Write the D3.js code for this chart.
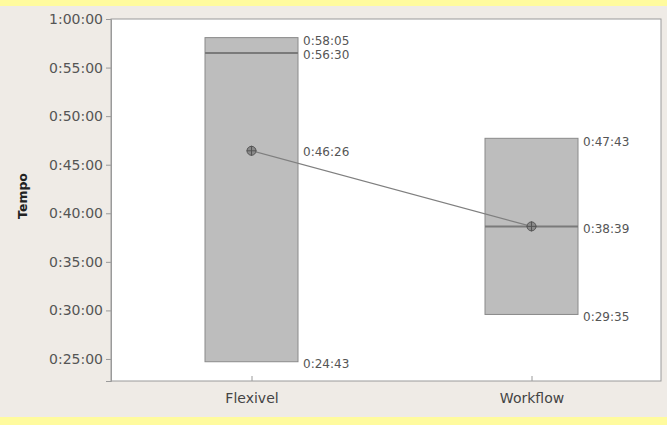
<!DOCTYPE html>
<html><head><meta charset="utf-8">
<script src="https://cdn.jsdelivr.net/npm/d3@7"></script>
<style>body{margin:0;background:#efebe6;}svg{display:block;}</style>
</head><body>
<script>
const categories = ["Flexivel", "Workflow"];
const highs   = ["0:58:05", "0:47:43"];
const medians = ["0:56:30", "0:38:39"];
const means   = ["0:46:26", "0:38:39"];
const lows    = ["0:24:43", "0:29:35"];
const yTicks  = ["0:25:00","0:30:00","0:35:00","0:40:00","0:45:00","0:50:00","0:55:00","1:00:00"];
const yLabel = "Tempo";

const toSec = s => { const p = s.split(":").map(Number); return p[0]*3600+p[1]*60+p[2]; };
const W = 667, H = 425;
const m = {l:111, r:6, t:19, b:44};
const svg = d3.select("body").append("svg").attr("width",W).attr("height",H);
svg.append("rect").attr("width",W).attr("height",H).attr("fill","#efebe6");
svg.append("rect").attr("width",W).attr("height",6).attr("fill","#fffb9e");
svg.append("rect").attr("y",417).attr("width",W).attr("height",8).attr("fill","#fffb9e");

const x = d3.scalePoint().domain(categories).range([251.5, 531.5]).padding(0);
const y = d3.scaleLinear().domain([toSec("0:22:44"), toSec("1:00:00")]).range([H-m.b, m.t]);

svg.append("rect").attr("x",m.l).attr("y",m.t).attr("width",W-m.r-m.l).attr("height",H-m.b-m.t)
  .attr("fill","#fff").attr("stroke","#9a9a9a");

const fmt = s => { const h=Math.floor(s/3600), mi=Math.floor((s%3600)/60), se=s%60; return h+":"+String(mi).padStart(2,"0")+":"+String(se).padStart(2,"0"); };
const yAxis = d3.axisLeft(y).tickValues(yTicks.map(toSec)).tickFormat(fmt).tickSize(5).tickPadding(3);
const gy = svg.append("g").attr("transform",`translate(${m.l},0)`).call(yAxis);
gy.select(".domain").attr("stroke","#9a9a9a");
gy.selectAll(".tick line").attr("stroke","#9a9a9a");
gy.selectAll("text").attr("fill","#555").style("font-family","'DejaVu Sans', sans-serif").style("font-size","14px");

const xAxis = d3.axisBottom(x).tickSize(-5).tickPadding(12);
const gx = svg.append("g").attr("transform",`translate(0,${H-m.b})`).call(xAxis);
gx.select(".domain").remove();
gx.selectAll(".tick line").attr("stroke","#9a9a9a");
gx.selectAll("text").attr("fill","#444").style("font-family","'DejaVu Sans', sans-serif").style("font-size","14px");

svg.append("text").attr("transform",`translate(27,196) rotate(-90)`)
  .attr("text-anchor","middle").style("font-family","'DejaVu Sans', sans-serif").style("font-size","12.5px")
  .style("font-weight","bold").attr("fill","#222").text(yLabel);

const bw = 93;
const data = categories.map((c,i)=>({c, hi:toSec(highs[i]), med:toSec(medians[i]), mean:toSec(means[i]), lo:toSec(lows[i]),
  hiL:highs[i], medL:medians[i], meanL:means[i], loL:lows[i]}));

data.forEach(d=>{
  const cx = x(d.c);
  svg.append("rect").attr("x",cx-bw/2).attr("y",y(d.hi)).attr("width",bw).attr("height",y(d.lo)-y(d.hi))
    .attr("fill","#bdbdbd").attr("stroke","#8a8a8a").attr("stroke-width",1);
  svg.append("line").attr("x1",cx-bw/2).attr("x2",cx+bw/2).attr("y1",y(d.med)).attr("y2",y(d.med))
    .attr("stroke","#7a7a7a").attr("stroke-width",2);
});

svg.append("path").datum(data)
  .attr("d", d3.line().x(d=>x(d.c)).y(d=>y(d.mean)))
  .attr("fill","none").attr("stroke","#7f7f7f").attr("stroke-width",1.2);

data.forEach(d=>{
  const cx = x(d.c), cy = y(d.mean);
  svg.append("circle").attr("cx",cx).attr("cy",cy).attr("r",4.5).attr("fill","#8a8a8a").attr("stroke","#555").attr("stroke-width",1);
  svg.append("line").attr("x1",cx-5).attr("x2",cx+5).attr("y1",cy).attr("y2",cy).attr("stroke","#555");
  svg.append("line").attr("x1",cx).attr("x2",cx).attr("y1",cy-5).attr("y2",cy+5).attr("stroke","#555");
});

const lab = (cx, v, t, dy) => svg.append("text").attr("x",cx+bw/2+5).attr("y",y(v)+dy).attr("dy","0.35em")
  .style("font-family","'DejaVu Sans', sans-serif").style("font-size","12px").attr("fill","#555").text(t);
data.forEach(d=>{
  const cx = x(d.c);
  const close = Math.abs(y(d.med)-y(d.hi))<14;
  const labels = [[d.hi,d.hiL,3],[d.med,d.medL,2],[d.mean,d.meanL,1],[d.lo,d.loL,2]];
  const seen = new Set();
  labels.forEach(([v,t,dy])=>{
    if (seen.has(t)) return; seen.add(t);
    lab(cx, v, t, dy);
  });
});
</script>
</body></html>
